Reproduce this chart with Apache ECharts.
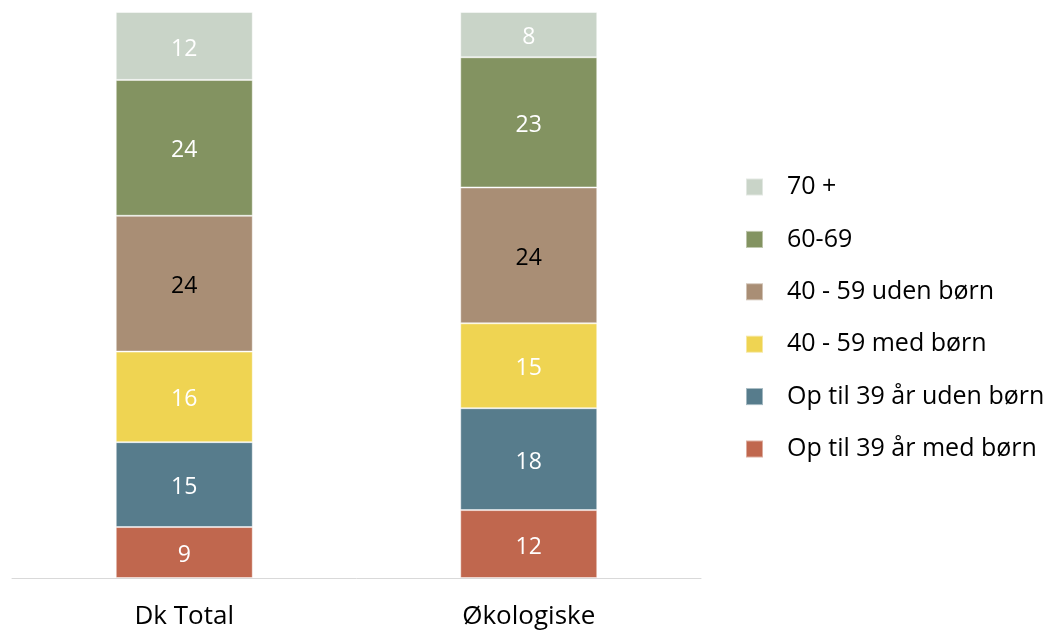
<!DOCTYPE html>
<html>
<head>
<meta charset="utf-8">
<script src="https://cdn.jsdelivr.net/npm/echarts@6/dist/echarts.min.js"></script>
<style>
  html, body { margin: 0; padding: 0; background: #fff; }
  #chart { width: 1055px; height: 632px; }
</style>
</head>
<body>
<div id="chart"></div>
<script>
// Age/household composition (%) per group, stacked bottom to top
const categories = ['Dk Total', 'Økologiske'];
const seriesNames = ['Op til 39 år med børn', 'Op til 39 år uden børn', '40 - 59 med børn', '40 - 59 uden børn', '60-69', '70 +'];
const opTil39Med = [9, 12];
const opTil39Uden = [15, 18];
const med40_59 = [16, 15];
const uden40_59 = [24, 24];
const aar60_69 = [24, 23];
const aar70plus = [12, 8];

const values = [opTil39Med, opTil39Uden, med40_59, uden40_59, aar60_69, aar70plus];
const colors = ['#C0674E', '#577C8C', '#EFD452', '#A98E75', '#839361', '#C9D4C8'];
const labelColors = ['#fff', '#fff', '#fff', '#000', '#fff', '#fff'];

const FONT = '"Open Sans", "Noto Sans", sans-serif';

const chart = echarts.init(document.getElementById('chart'), null, { renderer: 'canvas' });

chart.setOption({
  animation: false,
  textStyle: { fontFamily: FONT },
  grid: { left: 12, right: 354, top: 12, bottom: 54, containLabel: false },
  xAxis: {
    type: 'category',
    data: categories,
    axisLine: { show: true, lineStyle: { color: '#D9D9D9', width: 1 } },
    axisTick: { show: false },
    axisLabel: { color: '#000', fontSize: 26, fontFamily: FONT, margin: 26 }
  },
  yAxis: {
    type: 'value',
    min: 0,
    max: 100,
    show: false,
    splitLine: { show: false }
  },
  legend: {
    orient: 'vertical',
    left: 745,
    top: 172,
    padding: 0,
    itemWidth: 17,
    itemHeight: 17,
    itemGap: 22.4,
    icon: 'rect',
    data: seriesNames.slice().reverse(),
    textStyle: { color: '#000', fontSize: 25, fontFamily: FONT, lineHeight: 30, padding: [0, 0, 0, 19] }
  },
  series: seriesNames.map((name, i) => ({
    name: name,
    type: 'bar',
    stack: 'total',
    barWidth: 137,
    data: values[i],
    itemStyle: { color: colors[i], borderColor: 'rgba(255,255,255,0.45)', borderWidth: 1 },
    label: {
      show: true,
      position: 'inside',
      offset: [0, 3],
      color: labelColors[i],
      fontSize: 23,
      fontFamily: FONT
    }
  }))
});
</script>
</body>
</html>
